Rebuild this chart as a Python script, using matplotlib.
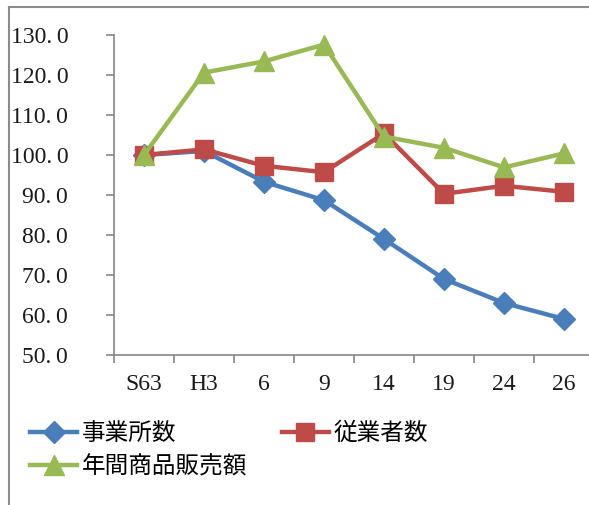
import matplotlib
matplotlib.use('Agg')
import matplotlib.pyplot as plt
from matplotlib.lines import Line2D
from matplotlib.ticker import FixedLocator, FuncFormatter

# data (index, S63 = 100)
categories = ['S63', 'H3', '6', '9', '14', '19', '24', '26']
establishments = [100.0, 101.0, 93.3, 88.7, 79.0, 69.0, 63.0, 59.0]
employees = [100.0, 101.4, 97.3, 95.7, 105.4, 90.3, 92.3, 90.8]
sales = [100.0, 120.6, 123.4, 127.6, 104.6, 101.8, 96.9, 100.4]
series_names = ['事業所数', '従業者数', '年間商品販売額']

W, H = 589, 505
fig = plt.figure(figsize=(W / 100, H / 100), dpi=100)
ax = fig.add_axes([114 / W, 1 - 355 / H, 480 / W, 320 / H])

num_font = ['Liberation Serif', 'Noto Sans CJK JP']
jp_font = ['Noto Sans CJK JP', 'DejaVu Sans']

x = range(len(categories))
ax.plot(x, establishments, color='#4a7ebb', lw=3.2, marker='D', ms=11,
        label=series_names[0], zorder=3)
ax.plot(x, employees, color='#be4b48', lw=3.2, marker='s', ms=13,
        label=series_names[1], zorder=4)
ax.plot(x, sales, color='#98b954', lw=3.2, marker='^', ms=14,
        label=series_names[2], zorder=5)

ax.set_xlim(-0.5, len(categories) - 0.5)
ax.set_ylim(50, 130)
ax.set_yticks(range(50, 131, 10))
ax.yaxis.set_major_formatter(FuncFormatter(lambda v, p: f'{v:.0f}.\u20090'))

ax.set_xticks(list(x))
ax.set_xticklabels(categories)
ax.xaxis.set_minor_locator(FixedLocator([i - 0.5 for i in range(len(categories) + 1)]))
ax.tick_params(axis='x', which='major', length=0, pad=14)
ax.tick_params(axis='x', which='minor', length=6, width=1.2, color='#868686')
ax.tick_params(axis='y', length=6, width=1.2, color='#868686', pad=27)

for lab in ax.get_xticklabels() + ax.get_yticklabels():
    lab.set_family(num_font)
    lab.set_fontsize(17)
    lab.set_color('#1a1a1a')

for s in ['top', 'right']:
    ax.spines[s].set_visible(False)
for s in ['left', 'bottom']:
    ax.spines[s].set_color('#868686')
    ax.spines[s].set_linewidth(1.2)

# outer chart border (cropped on the right and bottom)
fig.add_artist(Line2D([8.5 / W, 8.5 / W], [0, 1 - 7 / H], color='#8c8c8c', lw=1.5,
                      transform=fig.transFigure))
fig.add_artist(Line2D([8.5 / W, 1], [1 - 7 / H, 1 - 7 / H], color='#8c8c8c', lw=1.5,
                      transform=fig.transFigure))

handles, labels = ax.get_legend_handles_labels()
# reorder so that the two-column layout reads row by row
leg = fig.legend([handles[0], handles[2], handles[1]], [labels[0], labels[2], labels[1]],
                 loc='upper left', bbox_to_anchor=(30 / W, 1 - 422 / H), ncol=2,
                 frameon=False, borderpad=0, borderaxespad=0, handlelength=2.0,
                 handletextpad=0.2, columnspacing=1.45, labelspacing=0.45, numpoints=1,
                 prop={'family': jp_font, 'size': 17})

fig.savefig('out.png', dpi=100)
